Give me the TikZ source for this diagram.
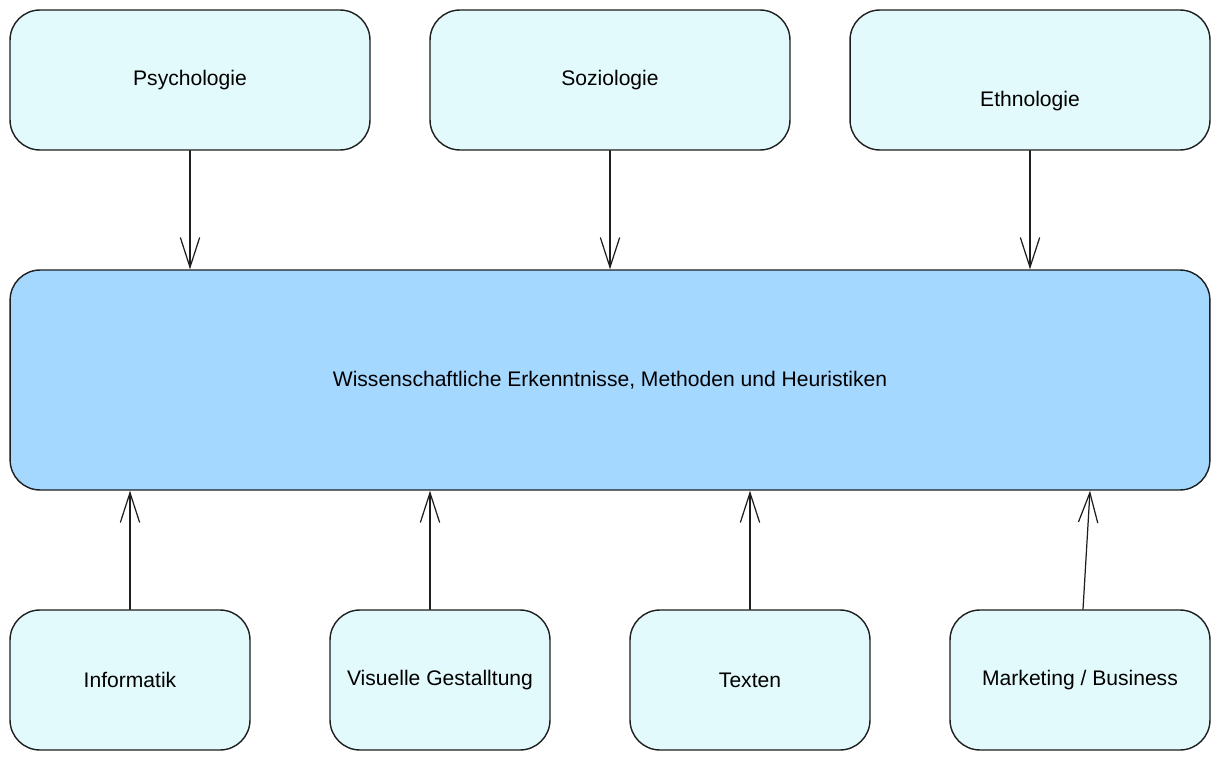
\documentclass[tikz,border=0pt]{standalone}
\usepackage{fontspec}
\setmainfont{Liberation Sans}
\usetikzlibrary{arrows.meta}
\definecolor{hell}{HTML}{E3FAFC}
\definecolor{blau}{HTML}{A5D8FF}
\definecolor{strich}{HTML}{1E1E1E}
\begin{document}
\begin{tikzpicture}[line cap=round,line join=round,x=0.02cm,y=-0.02cm,
  box/.style={draw=strich,line width=0.8pt,fill=hell,rounded corners=0.6cm,inner sep=0pt,font=\fontsize{12}{14}\selectfont},
  arr/.style={draw=strich,line width=0.7pt,-{Straight Barb[length=17pt,width=11pt,line width=0.7pt]}}]
\useasboundingbox (0,0) rectangle (1220,760);
% obere Reihe
\node[box,minimum width=7.2cm,minimum height=2.8cm] (psy) at (190,80) {Psychologie};
\node[box,minimum width=7.2cm,minimum height=2.8cm] (soz) at (610,80) {Soziologie};
\node[box,minimum width=7.2cm,minimum height=2.8cm] (eth) at (1030,80) {};
\node[font=\fontsize{12}{14}\selectfont] (ethtxt) at (1030,101) {Ethnologie};
% Mitte
\node[box,fill=blau,minimum width=24cm,minimum height=4.4cm] (wiss) at (610,380) {Wissenschaftliche Erkenntnisse, Methoden und Heuristiken};
% untere Reihe
\node[box,minimum width=4.8cm,minimum height=2.8cm] (inf) at (130,680) {Informatik};
\node[box,minimum width=4.4cm,minimum height=2.8cm] (vis) at (440,680) {Visuelle Gestalltung};
\node[box,minimum width=4.8cm,minimum height=2.8cm] (tex) at (750,680) {Texten};
\node[box,minimum width=5.2cm,minimum height=2.8cm] (mar) at (1080,680) {Marketing / Business};
% Pfeile
\draw[arr] (psy.south) -- (psy.south |- wiss.north);
\draw[arr] (soz.south) -- (soz.south |- wiss.north);
\draw[arr] (eth.south) -- (eth.south |- wiss.north);
\draw[arr] (inf.north) -- (inf.north |- wiss.south);
\draw[arr] ([xshift=-0.2cm]vis.north) -- ([xshift=-0.2cm]vis.north |- wiss.south);
\draw[arr] (tex.north) -- (tex.north |- wiss.south);
\draw[arr] ([xshift=0.06cm]mar.north) -- ([xshift=0.2cm]mar.north |- wiss.south);
\end{tikzpicture}
\end{document}
